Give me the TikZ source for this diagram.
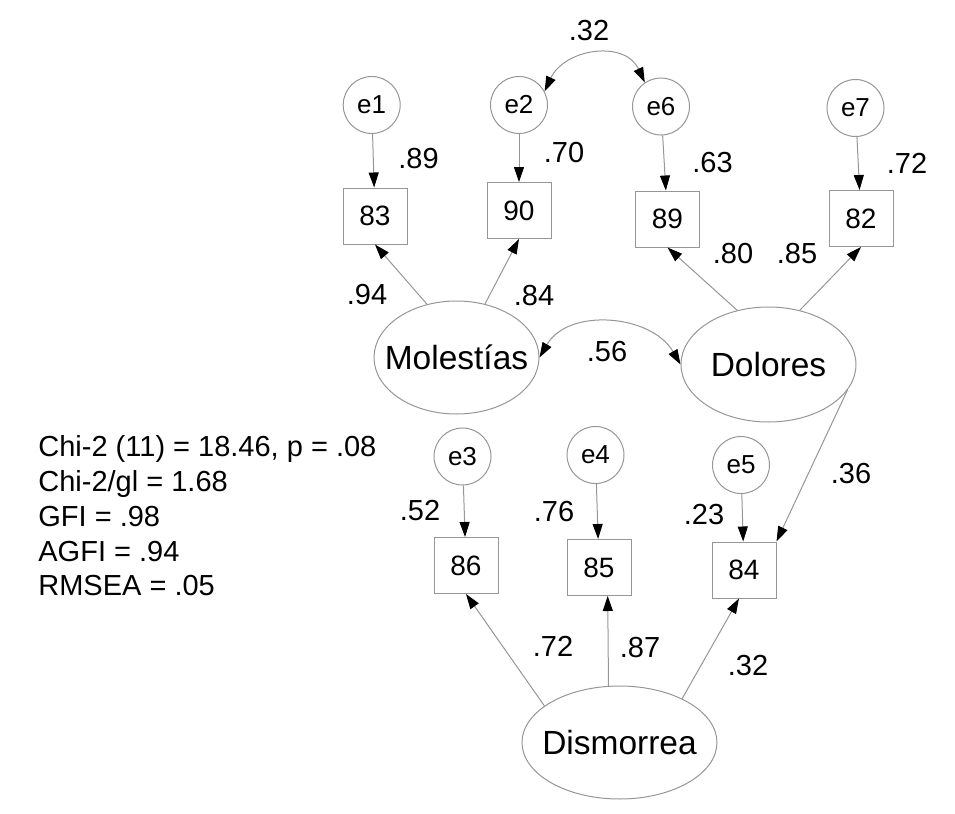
\documentclass[tikz,border=0pt]{standalone}
\usepackage{fontspec}
\setmainfont{Liberation Sans}
\usetikzlibrary{arrows.meta,shapes.geometric}
\definecolor{amosgray}{RGB}{150,150,150}
\tikzstyle{obs}=[draw=amosgray, line width=0.5pt, minimum height=28pt, minimum width=32pt, inner sep=0pt, font=\fontsize{14}{16}\selectfont]
\tikzstyle{err}=[draw=amosgray, line width=0.5pt, circle, minimum size=28.5pt, inner sep=0pt, font=\fontsize{13}{15}\selectfont]
\tikzstyle{lat}=[draw=amosgray, line width=0.5pt, ellipse, inner sep=0pt, font=\fontsize{16.75}{19}\selectfont]
\tikzstyle{lab}=[inner sep=0pt, font=\fontsize{14.5}{17}\selectfont]
\tikzstyle{fitline}=[inner sep=0pt, anchor=base west, font=\fontsize{14.5}{17}\selectfont]
\tikzstyle{arr}=[draw=amosgray, line width=0.5pt, -{Triangle[length=7.5pt,width=5pt,color=black]}]
\tikzstyle{arr2}=[draw=amosgray, line width=0.5pt, {Triangle[length=7.5pt,width=5pt,color=black]}-{Triangle[length=7.5pt,width=5pt,color=black]}]

\begin{document}
\begin{tikzpicture}[x=0.5pt,y=-0.5pt]
\useasboundingbox (0,0) rectangle (955,814);

% latent factors
\node[lat, minimum width=82.5pt, minimum height=56.5pt] (mol) at (456.5,357.5) {\makebox[0pt]{Molestías}};
\node[lat, minimum width=87.5pt, minimum height=57.5pt] (dol) at (768.5,364.5) {\makebox[0pt]{Dolores}};
\node[lat, minimum width=97.5pt, minimum height=56.5pt] (dis) at (619.5,742.5) {\makebox[0pt]{Dismorrea}};

% items
\node[obs] (b83) at (375,216) {83};
\node[obs] (b90) at (519,210.5) {90};
\node[obs] (b89) at (667.5,219) {89};
\node[obs] (b82) at (861,218.5) {82};
\node[obs] (b86) at (466,565.5) {86};
\node[obs] (b85) at (599,567.5) {85};
\node[obs] (b84) at (744,570) {84};

% errors
\node[err, above of = b83, node distance = 55.5pt, xshift = -1.65pt] (e1) {e1};
\node[err, above of = b90, node distance = 52.75pt] (e2) {e2};
\node[err, above of = b89, node distance = 56.25pt, xshift = -3.25pt] (e6) {e6};
\node[err, above of = b82, node distance = 55.25pt, xshift = -2.75pt] (e7) {e7};
\node[err, above of = b86, node distance = 54.5pt, xshift = -1.75pt] (e3) {e3};
\node[err, above of = b85, node distance = 56.25pt, xshift = -1.75pt] (e4) {e4};
\node[err, above of = b84, node distance = 52.5pt, xshift = -1.5pt] (e5) {e5};

\draw[arr] (e1) -- (b83);
\draw[arr] (e2) -- (b90);
\draw[arr] (e6) -- (b89);
\draw[arr] (e7) -- (b82);
\draw[arr] (e3) -- (b86);
\draw[arr] (e4) -- (b85);
\draw[arr] (e5) -- (b84);

\draw[arr] (mol.119) -- (b83.south);
\draw[arr] (mol.62) -- (b90.south);
\draw[arr] (dol.120) -- (b89.south);
\draw[arr] (dol.60) -- (b82.south);
\draw[arr] (dol.-18) -- (b84.north east);
\draw[arr] (dis.154) -- (b86.south);
\draw[arr] (dis.101) -- (b85.-73);
\draw[arr] (dis.35) -- (b84.-100);

\draw[arr2] (e2.28) to[out=65,in=115,looseness=1.2] (e6.124);
\draw[arr2] (mol.east) to[out=60,in=120,looseness=1.05] (dol.west);

% estimates
\node[lab] (l32a) at (589,31) {.32};
\node[lab] (l89) at (418.5,159) {.89};
\node[lab] (l70) at (564,153) {.70};
\node[lab] (l63) at (712.5,162.5) {.63};
\node[lab] (l72a) at (907,163) {.72};
\node[lab] (l94) at (367,295) {.94};
\node[lab] (l84) at (534,296) {.84};
\node[lab] (l80) at (733,254) {.80};
\node[lab] (l85) at (797,254) {.85};
\node[lab] (l56) at (607,352) {.56};
\node[lab] (l36) at (851,474) {.36};
\node[lab] (l52) at (420,511) {.52};
\node[lab] (l76) at (554,512) {.76};
\node[lab] (l23) at (704,515) {.23};
\node[lab] (l72b) at (553,646) {.72};
\node[lab] (l87) at (640,648) {.87};
\node[lab] (l32b) at (748,666) {.32};

% fit indices
\node[fitline] (fit1) at (38,456) {Chi-2 (11) = 18.46, p = .08};
\node[fitline] (fit2) at (38,491) {Chi-2/gl = 1.68};
\node[fitline] (fit3) at (38,526) {GFI = .98};
\node[fitline] (fit4) at (38,561) {AGFI = .94};
\node[fitline] (fit5) at (38,595) {RMSEA = .05};
\end{tikzpicture}
\end{document}
